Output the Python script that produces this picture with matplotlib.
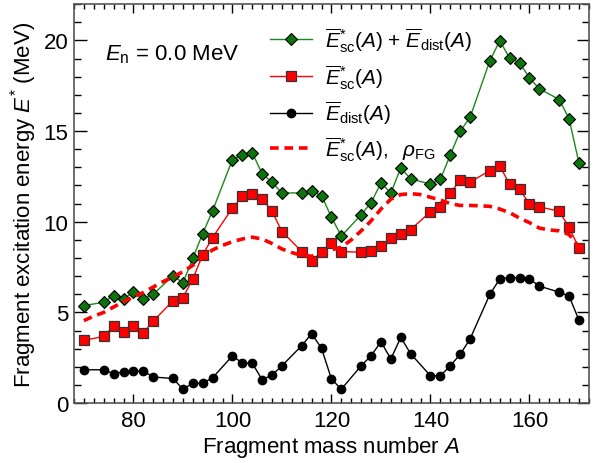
import numpy as np
import matplotlib
matplotlib.use("Agg")
import matplotlib.pyplot as plt
from matplotlib.ticker import MultipleLocator

plt.rcParams['font.family'] = ['Liberation Sans', 'DejaVu Sans']
plt.rcParams['mathtext.fontset'] = 'custom'
plt.rcParams['mathtext.rm'] = 'Liberation Sans'
plt.rcParams['mathtext.it'] = 'Liberation Sans:italic'
plt.rcParams['mathtext.bf'] = 'Liberation Sans:bold'

A = [70, 74, 76, 78, 80, 82, 84, 88, 90, 92, 94, 96, 100, 102, 104, 106, 108, 110,
     114, 116, 118, 120, 122, 126, 128, 130, 132, 134, 136, 140, 142, 144, 146, 148,
     152, 154, 156, 158, 160, 162, 166, 168, 170]

E_total = [5.38, 5.56, 5.93, 5.75, 6.12, 5.75, 6.00, 7.03, 6.63, 7.99, 9.35, 10.61,
           13.43, 13.68, 13.81, 12.65, 12.17, 11.59, 11.59, 11.70, 11.44, 10.25, 9.21,
           10.39, 11.05, 12.14, 11.59, 12.97, 12.36, 12.08, 12.34, 13.68, 14.99, 15.76,
           18.88, 19.98, 19.02, 18.78, 17.92, 17.33, 16.74, 15.69, 13.22]

E_sc = [3.46, 3.68, 4.24, 3.91, 4.27, 3.87, 4.53, 5.64, 5.82, 6.85, 8.18, 9.13,
        10.76, 11.40, 11.51, 11.27, 10.58, 9.46, 8.36, 7.81, 8.36, 8.82, 8.36,
        8.32, 8.40, 8.66, 9.10, 9.32, 9.57, 10.55, 10.79, 11.59, 12.28, 12.19,
        12.82, 13.08, 12.06, 11.78, 10.99, 10.82, 10.58, 9.69, 8.55]

E_dist = [1.84, 1.84, 1.62, 1.73, 1.77, 1.77, 1.44, 1.36, 0.77, 1.09, 1.10, 1.40,
          2.61, 2.21, 2.21, 1.29, 1.55, 2.06, 3.17, 3.83, 3.02, 1.33, 0.77,
          2.06, 2.61, 3.39, 2.43, 3.63, 2.72, 1.51, 1.51, 2.06, 2.69, 3.54,
          6.00, 6.85, 6.92, 6.92, 6.85, 6.45, 6.12, 5.90, 4.57]

A_fg = [70, 72, 74, 76, 78, 80, 82, 84, 86, 88, 90, 92, 94, 96, 98, 100, 102, 104,
        106, 108, 110, 112, 114, 116, 118, 120, 122, 124, 126, 128, 130, 132, 134,
        136, 138, 140, 142, 144, 146, 148, 150, 152, 154, 156, 158, 160, 162, 164,
        166, 168, 170]
E_fg = [4.55, 4.80, 5.00, 5.30, 5.60, 5.85, 6.10, 6.40, 6.70, 6.95, 7.25, 7.60,
        8.05, 8.45, 8.70, 8.90, 9.05, 9.15, 9.05, 8.80, 8.50, 8.30, 8.15, 8.10,
        8.25, 8.45, 8.60, 9.00, 9.50, 10.05, 10.70, 11.25, 11.50, 11.55, 11.50,
        11.35, 11.20, 11.00, 10.90, 10.90, 10.88, 10.85, 10.70, 10.50, 10.20,
        9.95, 9.65, 9.55, 9.50, 9.30, 8.60]

fig = plt.figure(figsize=(6.04, 4.64), dpi=100)
ax = fig.add_axes([0.1225, 0.129, 0.8525, 0.86])

ax.plot(A, E_total, '-D', color='#1a8a1a', lw=1, ms=6.5, mfc='#0d730d', mec='black',
        mew=0.8, label=r'$\overline{E}^{*}_{\rm sc}(A)$ + $\overline{E}_{\rm dist}(A)$')
ax.plot(A, E_sc, '-s', color='red', lw=1, ms=6.5, mfc='red', mec='#333333',
        mew=0.9, label=r'$\overline{E}^{*}_{\rm sc}(A)$')
ax.plot(A, E_dist, '-o', color='black', lw=1, ms=6, mfc='black', mec='black',
        label=r'$\overline{E}_{\rm dist}(A)$')
ax.plot(A_fg, E_fg, color='red', lw=2.6, dashes=[2.4, 1.6],
        label=r'$\overline{E}^{*}_{\rm sc}(A),\ \ \rho_{\rm FG}$')

ax.set_xlim(68, 172)
ax.set_ylim(0, 22)
ax.xaxis.set_major_locator(MultipleLocator(20))
ax.xaxis.set_minor_locator(MultipleLocator(2))
ax.yaxis.set_major_locator(MultipleLocator(5))
ax.yaxis.set_minor_locator(MultipleLocator(1))
ax.tick_params(axis='both', which='both', direction='in', top=True, right=True,
               labelsize=16, width=1)
ax.tick_params(axis='x', which='major', length=6.5, pad=5)
ax.tick_params(axis='x', which='minor', length=3.5)
ax.tick_params(axis='y', which='major', length=9, pad=4)
ax.tick_params(axis='y', which='minor', length=5)
for s in ax.spines.values():
    s.set_color('#555555')
    s.set_linewidth(1.2)

ax.set_xlabel(r'Fragment mass number $A$', fontsize=16, labelpad=2)
ax.set_ylabel(r'Fragment excitation energy $E^{*}$ (MeV)', fontsize=16, labelpad=3)

ax.text(0.06, 0.875, r'$E_{\rm n}$ = 0.0 MeV', transform=ax.transAxes, fontsize=16,
        ha='left', va='center')

ax.legend(loc='upper left', bbox_to_anchor=(0.341, 1.0), frameon=False, fontsize=15,
          handlelength=2.0, handletextpad=0.6, labelspacing=0.4, borderpad=0.5)

fig.savefig('out.png', dpi=100)
